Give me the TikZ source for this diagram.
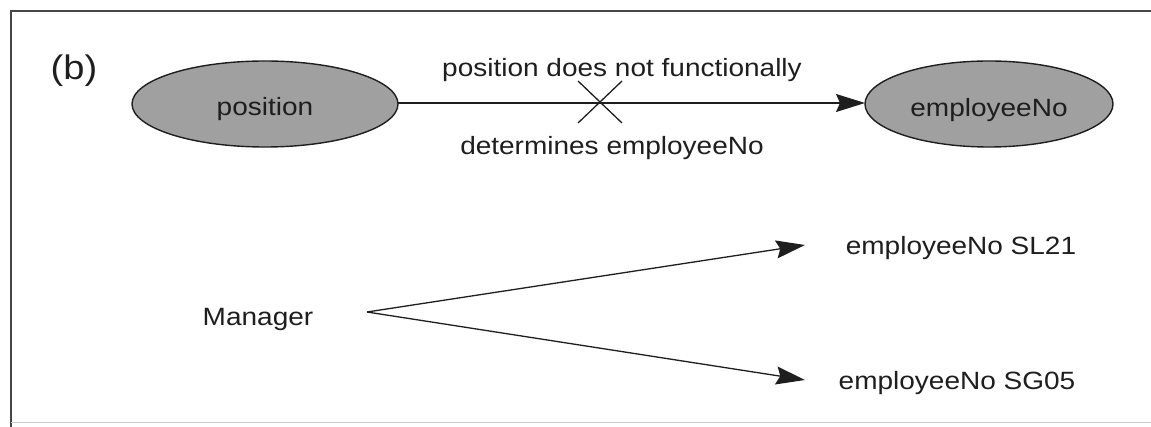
\documentclass[tikz,border=0pt]{standalone}
\usepackage{fontspec}
\setmainfont{Liberation Sans}[FakeStretch=1.12]
\usetikzlibrary{arrows.meta,calc}
\definecolor{ink}{RGB}{30,30,30}
\definecolor{ellfill}{RGB}{160,160,160}
\definecolor{framec}{RGB}{70,70,70}
\tikzset{
  txt/.style={font=\fontsize{25}{30}\selectfont, text=ink, inner sep=0pt, anchor=base},
  attr/.style={draw=ink, line width=1.4pt, fill=ellfill},
  conn/.style={draw=ink, line width=1.3pt, -{Stealth[length=29pt,width=18pt,inset=4pt]}},
}
\begin{document}
\begin{tikzpicture}[x=1pt,y=-1pt]
\useasboundingbox (0,0) rectangle (1151,427);
% frame
\draw[framec, line width=2pt] (11,427) -- (11,11) -- (1151,11);
\draw[black!20, line width=1pt] (11,422) -- (1151,422);
% label
\node[txt, font=\fontsize{34}{40}\selectfont] (lbl) at (74,80) {(b)};
% ellipses
\draw[attr] (265,104) ellipse [x radius=133, y radius=43];
\coordinate (posR) at (398,103);
\draw[attr] (989,104) ellipse [x radius=124, y radius=43];
\coordinate (empL) at (865,103);
\node[txt] (pos) at (265,116) {position};
\node[txt] (emp) at (989,117) {employeeNo};
% FD arrow with cross
\draw[conn] (posR) -- (empL);
\coordinate (xc) at (600,102);
\draw[ink, line width=1.3pt] ($(xc)+(-22,-21)$) -- ($(xc)+(22,21)$);
\draw[ink, line width=1.3pt] ($(xc)+(-22,21)$) -- ($(xc)+(22,-21)$);
\node[txt] (top) at (622,77) {position does not functionally};
\node[txt] (bot) at (612,155) {determines employeeNo};
% lower part
\node[txt] (mgr) at (258,326) {Manager};
\coordinate (mgrR) at (367,312);
\coordinate (t1) at (805,245);
\coordinate (t2) at (805,380);
\draw[conn] (mgrR) -- (t1);
\draw[conn] (mgrR) -- (t2);
\node[txt] (sl) at (961,255) {employeeNo SL21};
\node[txt] (sg) at (957,389) {employeeNo SG05};
\end{tikzpicture}
\end{document}
